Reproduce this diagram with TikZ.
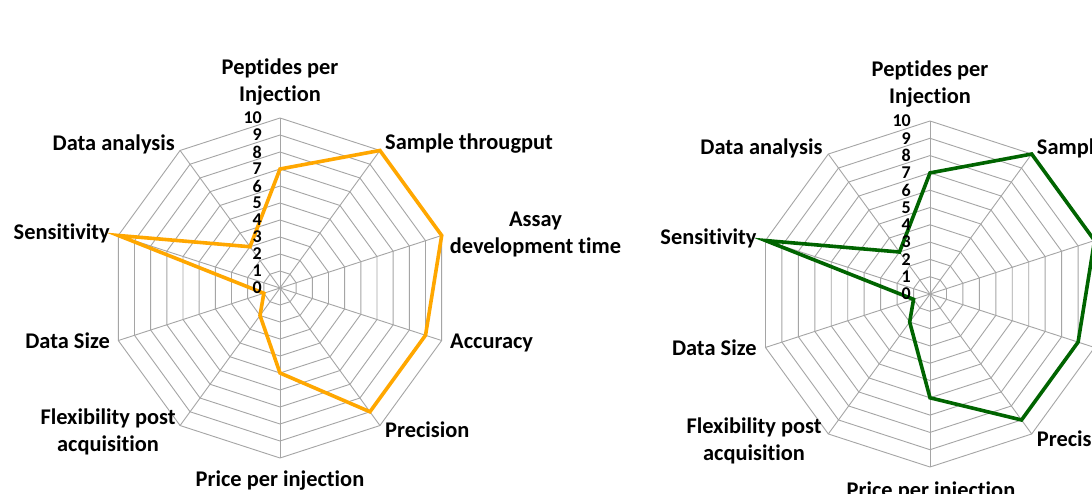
\documentclass[tikz,border=0pt]{standalone}
\usepackage{fontspec}
\setmainfont{Carlito}[Ligatures=NoCommon]
\definecolor{gridgray}{RGB}{165,165,165}
\definecolor{seriesorange}{RGB}{255,167,0}
\definecolor{seriesgreen}{RGB}{0,100,0}
\tikzset{
  gridline/.style={draw=gridgray, line width=0.9pt},
  seriesA/.style={draw=seriesorange, line width=3.6pt, line join=miter},
  seriesB/.style={draw=seriesgreen, line width=3.6pt, line join=miter},
  axislabel/.style={font=\fontsize{22.4}{27}\selectfont\bfseries, inner sep=0pt, align=center},
  ticklabel/.style={font=\fontsize{18}{18}\selectfont\bfseries, inner sep=0pt, anchor=east},
}
\newcommand\radargrid[3]{%
  \foreach \l in {1,...,10}{%
    \draw[gridline] ({#1},{#2-\l*#3}) \foreach \k in {1,...,9}{ -- ({#1+\l*#3*sin(36*\k)},{#2-\l*#3*cos(36*\k)}) } -- cycle;
  }%
  \foreach \k in {0,...,9}{%
    \draw[gridline] (#1,#2) -- ({#1+10*#3*sin(36*\k)},{#2-10*#3*cos(36*\k)});
  }%
}
\begin{document}
\begin{tikzpicture}[x=1pt,y=-1pt]
\useasboundingbox (0,0) rectangle (1092,494);
\clip (0,0) rectangle (1092,494);
\fill[white] (0,0) rectangle (1092,494);

% ---------- left chart ----------
\radargrid{280}{288}{17}
\foreach \v [count=\k from 0] in {7,10,10,9,9,5,2,1,10,3}{
  \coordinate (L\k) at ({280+\v*17*sin(36*\k)},{288-\v*17*cos(36*\k)});
}
\draw[seriesA] (L0) -- (L1) -- (L2) -- (L3) -- (L4) -- (L5) -- (L6) -- (L7) -- (L8) -- (L9) -- cycle;
\foreach \l in {0,...,10}{
  \node[ticklabel] (Lt\l) at (262,{288-\l*17}) {\l};
}
\node[axislabel, anchor=base] (Lpep) at (280,101.7) {Peptides per\\Injection};
\node[axislabel, anchor=base west] (Lsam) at (385,150) {Sample througput};
\node[axislabel, anchor=base] (Lass) at (535.5,253.3) {Assay\\development time};
\node[axislabel, anchor=base west] (Lacc) at (450,348) {Accuracy};
\node[axislabel, anchor=base west] (Lpre) at (385,437.7) {Precision};
\node[axislabel, anchor=base] (Lpri) at (280,486.7) {Price per injection};
\node[axislabel, anchor=base] (Lfle) at (108,451.7) {Flexibility post\\acquisition};
\node[axislabel, anchor=base east] (Lsiz) at (110,348.3) {Data Size};
\node[axislabel, anchor=base east] (Lsen) at (110,239.3) {Sensitivity};
\node[axislabel, anchor=base east] (Ldat) at (175,151) {Data analysis};

% ---------- right chart ----------
\radargrid{930}{294}{17.3}
\foreach \v [count=\k from 0] in {7,10,10,9,9,6,2,1,10,3}{
  \coordinate (R\k) at ({930+\v*17.3*sin(36*\k)},{294-\v*17.3*cos(36*\k)});
}
\draw[seriesB] (R0) -- (R1) -- (R2) -- (R3) -- (R4) -- (R5) -- (R6) -- (R7) -- (R8) -- (R9) -- cycle;
\foreach \l in {0,...,10}{
  \node[ticklabel] (Rt\l) at (911,{294-\l*17.3}) {\l};
}
\node[axislabel, anchor=base] (Rpep) at (930,104) {Peptides per\\Injection};
\node[axislabel, anchor=base west] (Rsam) at (1036.7,154.3) {Sample througput};
\node[axislabel, anchor=base west] (Rpre) at (1036.7,446.7) {Precision};
\node[axislabel, anchor=base] (Rpri) at (931,497.5) {Price per injection};
\node[axislabel, anchor=base] (Rfle) at (754,460) {Flexibility post\\acquisition};
\node[axislabel, anchor=base east] (Rsiz) at (756.7,355) {Data Size};
\node[axislabel, anchor=base east] (Rsen) at (756.7,244.3) {Sensitivity};
\node[axislabel, anchor=base east] (Rdat) at (822.7,154.3) {Data analysis};
\end{tikzpicture}
\end{document}
